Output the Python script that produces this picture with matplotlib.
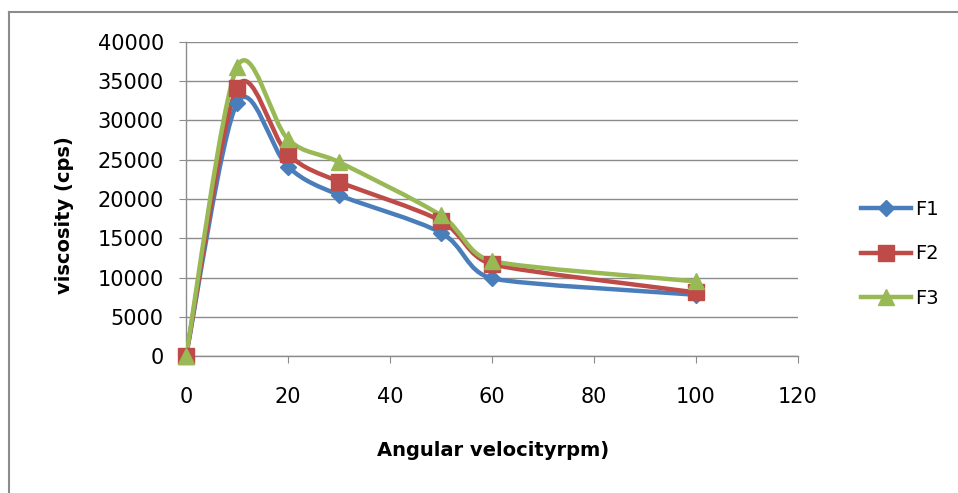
import numpy as np
import matplotlib
matplotlib.use("Agg")
import matplotlib.pyplot as plt
from matplotlib.path import Path
from matplotlib.patches import PathPatch
from matplotlib.lines import Line2D

x = [0, 10, 20, 30, 50, 60, 100]
f1 = [0, 32200, 24100, 20500, 15700, 9900, 7800]
f2 = [0, 34200, 25700, 22200, 17200, 11700, 8100]
f3 = [0, 36800, 27600, 24700, 17900, 12100, 9500]
series_names = ["F1", "F2", "F3"]
colors = ["#4A7EBB", "#BE4B48", "#98B954"]
markers = ["D", "s", "^"]
msizes = [8, 11, 12]

fig = plt.figure(figsize=(9.58, 4.93), dpi=100)
ax = fig.add_axes([186/958, 1-356/493, (798-186)/958, (356-42)/493])
ax.set_xlim(0, 120)
ax.set_ylim(0, 40000)

W = 798 - 186
H = 356 - 42
sx = W / 120.0
sy = H / 40000.0


def excel_smooth(xs, ys):
    # Bezier smoothing in screen space (Excel-style, tangent length capped)
    P = [np.array([xi * sx, yi * sy]) for xi, yi in zip(xs, ys)]
    n = len(P)

    def tangent(i):
        prev = P[i - 1] if i > 0 else P[i]
        nxt = P[i + 1] if i < n - 1 else P[i]
        t = (nxt - prev) / 6.0
        L = np.linalg.norm(t)
        caps = []
        if i > 0:
            caps.append(np.linalg.norm(P[i] - P[i - 1]) * 0.4)
        if i < n - 1:
            caps.append(np.linalg.norm(P[i + 1] - P[i]) * 0.4)
        cap = min(caps)
        if L > cap and L > 0:
            t = t * cap / L
        return t

    T = [tangent(i) for i in range(n)]
    verts = [P[0]]
    codes = [Path.MOVETO]
    for i in range(n - 1):
        c1 = P[i] + T[i]
        c2 = P[i + 1] - T[i + 1]
        verts += [c1, c2, P[i + 1]]
        codes += [Path.CURVE4] * 3
    verts = np.array(verts)
    verts[:, 0] /= sx
    verts[:, 1] /= sy
    return Path(verts, codes)


for ys, c, m, ms in zip([f1, f2, f3], colors, markers, msizes):
    p = excel_smooth(x, ys)
    ax.add_patch(PathPatch(p, facecolor="none", edgecolor=c, lw=3.2,
                           capstyle="round", joinstyle="round", zorder=3))
    ax.plot(x, ys, linestyle="none", marker=m, markersize=ms, color=c,
            markeredgecolor=c, zorder=4, clip_on=False)

ax.set_xticks(np.arange(0, 121, 20))
ax.set_yticks(np.arange(0, 40001, 5000))
ax.yaxis.grid(True, color="#8C8C8C", lw=1.0)
ax.set_axisbelow(True)
for s in ["top", "right"]:
    ax.spines[s].set_visible(False)
for s in ["left", "bottom"]:
    ax.spines[s].set_color("#8C8C8C")
    ax.spines[s].set_linewidth(1.0)
ax.tick_params(axis="x", direction="out", length=5, color="#8C8C8C",
               labelsize=15, pad=17)
ax.tick_params(axis="y", direction="out", length=5, color="#8C8C8C",
               labelsize=15, pad=11)

fig.text(493/958, 1-451/493, "Angular velocityrpm)", fontsize=14,
         fontweight="bold", ha="center", va="center")
fig.text(65/958, 1-215/493, "viscosity (cps)", fontsize=14,
         fontweight="bold", ha="center", va="center", rotation=90)

handles = [Line2D([0], [0], color=c, lw=3.2, marker=m, markersize=ms,
                  markeredgecolor=c) for c, m, ms in zip(colors, markers, msizes)]
fig.legend(handles, series_names, loc="center left",
           bbox_to_anchor=(843/958, 1-254/493), frameon=False, fontsize=14,
           handlelength=2.6, labelspacing=1.3, handletextpad=0.2)

# chart border (left and top edges visible)
fig.add_artist(Line2D([9/958, 9/958], [0, 1-12/493], color="#8C8C8C", lw=1.5,
                      transform=fig.transFigure))
fig.add_artist(Line2D([9/958, 1], [1-12/493, 1-12/493], color="#8C8C8C", lw=1.5,
                      transform=fig.transFigure))

fig.savefig("out.png", dpi=100)
